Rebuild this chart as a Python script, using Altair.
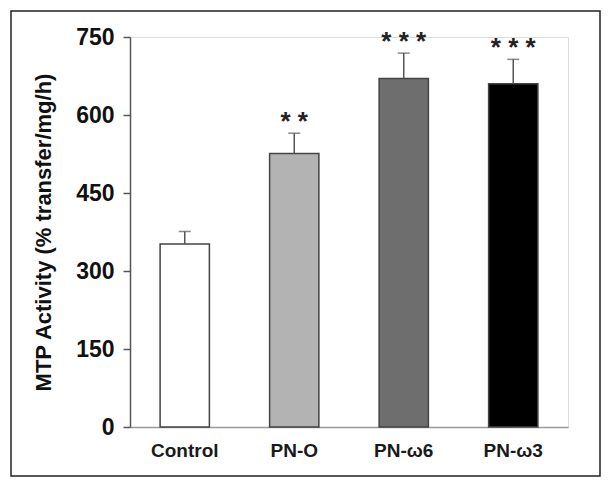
import altair as alt
import pandas as pd

groups = ["Control", "PN-O", "PN-ω6", "PN-ω3"]
means = [352, 526, 670, 660]
sem = [24, 39, 49, 47]
sig = ["", "* *", "* * *", "* * *"]

fills = ["#ffffff", "#b3b3b3", "#6e6e6e", "#000000"]

df = pd.DataFrame({"group": groups, "mean": means, "sem": sem, "sig": sig})
df["top"] = df["mean"] + df["sem"]

FONT = "Liberation Sans"

yscale = alt.Scale(domain=[0, 750], nice=False, zero=True)
xs = alt.X("group:N", sort=groups,
           scale=alt.Scale(paddingInner=0.55, paddingOuter=0.275))

x = alt.X("group:N", sort=groups,
          scale=alt.Scale(paddingInner=0.55, paddingOuter=0.275),
          axis=alt.Axis(title=None, ticks=False, labelAngle=0, labelFont=FONT,
                        labelFontSize=19, labelFontWeight="bold", labelColor="#1a1a1a",
                        labelPadding=14, domainColor="#9a9a9a", domainWidth=1.5))
y = alt.Y("mean:Q", scale=yscale,
          axis=alt.Axis(title="MTP Activity (% transfer/mg/h)", values=[0, 150, 300, 450, 600, 750],
                        grid=False, tickSize=7, tickColor="#555555", tickWidth=1.5,
                        domainColor="#555555", domainWidth=1.5,
                        labelFont=FONT, labelFontSize=23, labelFontWeight="bold",
                        labelColor="#111111", labelPadding=9,
                        titleFont=FONT, titleFontSize=22, titleFontWeight="bold",
                        titleColor="#111111", titlePadding=20))

base = alt.Chart(df)

bars = base.mark_bar(stroke="#444444", strokeWidth=1.5).encode(
    x=x, y=y,
    color=alt.Color("group:N", scale=alt.Scale(domain=groups, range=fills), legend=None),
)

err = base.mark_rule(color="#555555", strokeWidth=1.5).encode(
    x=xs, y=alt.Y("mean:Q", scale=yscale), y2="top:Q")

cap = base.mark_tick(color="#555555", thickness=1.5, size=12, orient="horizontal").encode(
    x=xs, y=alt.Y("top:Q", scale=yscale))

stars = base.mark_text(font=FONT, fontSize=26, fontWeight="bold", color="#222222",
                       baseline="alphabetic", dy=-3).encode(
    x=xs, y=alt.Y("top:Q", scale=yscale), text="sig:N")

frame = alt.Chart(pd.DataFrame({"k": [0]})).mark_rect(
    fill="transparent", stroke="#222222", strokeWidth=1.5).encode(
    x=alt.value(-119), x2=alt.value(470), y=alt.value(-26), y2=alt.value(439))

chart = alt.layer(bars, err, cap, stars, frame).properties(
    width=438, height=390,
    autosize=alt.AutoSizeParams(type="none"),
    padding={"left": 122, "top": 29, "right": 36, "bottom": 53},
).configure_view(stroke=None).configure(background="white")

chart.save("out.html", embed_options={"renderer": "svg", "actions": False})
